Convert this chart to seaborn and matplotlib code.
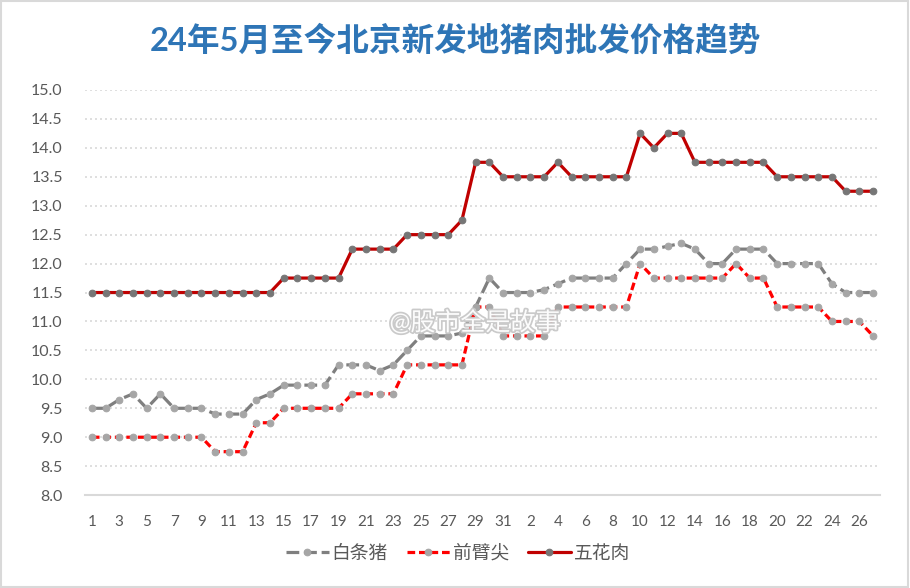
import numpy as np
import pandas as pd
import seaborn as sns
import matplotlib.pyplot as plt
import matplotlib.patheffects as pe
from matplotlib.patches import Rectangle

# day of month for each point: 5/1 .. 5/31 then 6/1 .. 6/27
day = list(range(1, 32)) + list(range(1, 28))

baitiao = [9.5, 9.5, 9.65, 9.75, 9.5, 9.75, 9.5, 9.5, 9.5, 9.4,
           9.4, 9.4, 9.65, 9.75, 9.9, 9.9, 9.9, 9.9, 10.25, 10.25,
           10.25, 10.15, 10.25, 10.5, 10.75, 10.75, 10.75, 10.8, 11.25, 11.75,
           11.5, 11.5, 11.5, 11.55, 11.65, 11.75, 11.75, 11.75, 11.75, 12.0,
           12.25, 12.25, 12.3, 12.35, 12.25, 12.0, 12.0, 12.25, 12.25, 12.25,
           12.0, 12.0, 12.0, 12.0, 11.65, 11.5, 11.5, 11.5]
qianbi = [9.0, 9.0, 9.0, 9.0, 9.0, 9.0, 9.0, 9.0, 9.0, 8.75,
          8.75, 8.75, 9.25, 9.25, 9.5, 9.5, 9.5, 9.5, 9.5, 9.75,
          9.75, 9.75, 9.75, 10.25, 10.25, 10.25, 10.25, 10.25, 11.25, 11.25,
          10.75, 10.75, 10.75, 10.75, 11.25, 11.25, 11.25, 11.25, 11.25, 11.25,
          12.0, 11.75, 11.75, 11.75, 11.75, 11.75, 11.75, 12.0, 11.75, 11.75,
          11.25, 11.25, 11.25, 11.25, 11.0, 11.0, 11.0, 10.75]
wuhua = [11.5, 11.5, 11.5, 11.5, 11.5, 11.5, 11.5, 11.5, 11.5, 11.5,
         11.5, 11.5, 11.5, 11.5, 11.75, 11.75, 11.75, 11.75, 11.75, 12.25,
         12.25, 12.25, 12.25, 12.5, 12.5, 12.5, 12.5, 12.75, 13.75, 13.75,
         13.5, 13.5, 13.5, 13.5, 13.75, 13.5, 13.5, 13.5, 13.5, 13.5,
         14.25, 14.0, 14.25, 14.25, 13.75, 13.75, 13.75, 13.75, 13.75, 13.75,
         13.5, 13.5, 13.5, 13.5, 13.5, 13.25, 13.25, 13.25]

series_names = ["白条猪", "前臂尖", "五花肉"]

sns.set_style("white")
plt.rcParams["font.family"] = ["Lato", "Noto Sans CJK SC", "DejaVu Sans"]

df = pd.DataFrame({"idx": np.arange(len(day)), "白条猪": baitiao,
                   "前臂尖": qianbi, "五花肉": wuhua})

fig = plt.figure(figsize=(9.1, 5.88), dpi=100)
ax = fig.add_axes([0.0934, 0.158, 0.8736, 0.689])

styles = {
    "白条猪": dict(color="#7f7f7f", dashes=(4, 1.5), mfc="#a6a6a6"),
    "前臂尖": dict(color="#ff0000", dashes=(2.4, 1.2), mfc="#a6a6a6"),
    "五花肉": dict(color="#c00000", dashes=None, mfc="#767676"),
}
for name in series_names:
    st = styles[name]
    sns.lineplot(data=df, x="idx", y=name, ax=ax, color=st["color"], lw=2.3,
                 marker="o", markersize=4.8, markerfacecolor=st["mfc"],
                 markeredgecolor=st["mfc"], label=name)
    line = ax.lines[-1]
    if st["dashes"] is not None:
        line.set_dashes(st["dashes"])

ax.set_xlim(-0.5, len(day) - 0.5)
ax.set_ylim(8.0, 15.0)
ax.set_yticks(np.arange(8.0, 15.01, 0.5))
ax.set_yticklabels([f"{v:.1f}" for v in np.arange(8.0, 15.01, 0.5)])
ax.set_xticks(np.arange(0, len(day), 2))
ax.set_xticklabels([str(day[i]) for i in range(0, len(day), 2)])
ax.set_xticks(np.arange(-0.5, len(day), 4), minor=True)
ax.tick_params(axis="x", which="major", length=0, pad=14, labelsize=11,
               labelcolor="#595959")
ax.tick_params(axis="x", which="minor", length=5, color="#d9d9d9", width=1.2)
ax.tick_params(axis="y", length=0, pad=16, labelsize=11.5, labelcolor="#595959")
ax.set_xlabel("")
ax.set_ylabel("")

ax.grid(axis="y", color="#d9d9d9", linestyle=(0, (1.2, 1.8)), lw=1.2)
for s in ["top", "right", "left"]:
    ax.spines[s].set_visible(False)
ax.spines["bottom"].set_color("#d9d9d9")
ax.spines["bottom"].set_linewidth(1.5)

fig.text(0.5, 0.932, "24年5月至今北京新发地猪肉批发价格趋势", ha="center",
         va="center", fontsize=23.5, fontweight="bold", color="#2e75b6")

handles, labels = ax.get_legend_handles_labels()
ax.get_legend().remove()
fig.legend(handles, labels, loc="center", bbox_to_anchor=(0.503, 0.059), ncol=3,
           frameon=False, fontsize=13.5, handlelength=2.3, handletextpad=0.15,
           columnspacing=1.0, labelcolor="#595959")

# watermark
fig.text(0.428, 0.452, "@股市全是故事", fontsize=18, color="white", alpha=0.95,
         va="center", ha="left",
         path_effects=[pe.withStroke(linewidth=2.5, foreground="#c8c8c8")])

fig.patches.append(Rectangle((0.001, 0.001), 0.997, 0.997, transform=fig.transFigure,
                             fill=False, edgecolor="#d9d9d9", lw=1.5))

fig.savefig("out.png", dpi=100)
